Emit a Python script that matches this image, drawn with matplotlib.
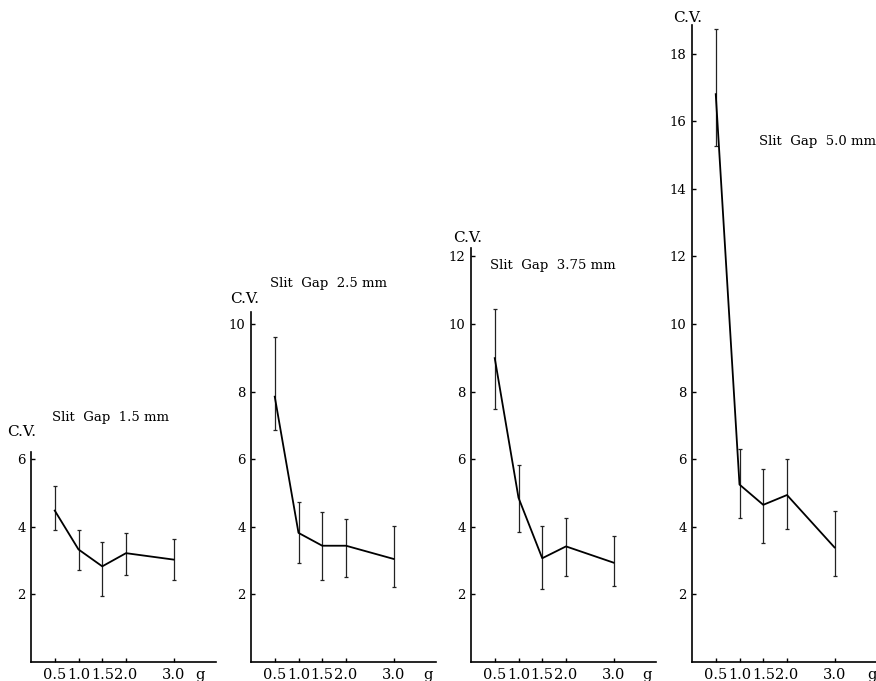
import matplotlib
matplotlib.use('Agg')
import matplotlib.pyplot as plt

W, H = 876, 681
plt.rcParams['font.family'] = ['DejaVu Serif']

# data: mean C.V. and error bar ends per dose (g)
doses = [0.5, 1.0, 1.5, 2.0, 3.0]
tick_labels = ['0.5', '1.0', '1.5', '2.0', '3.0']

gaps = ['1.5', '2.5', '3.75', '5.0']
cv_15 = [4.48, 3.33, 2.83, 3.22, 3.03]
hi_15 = [5.22, 3.92, 3.54, 3.83, 3.65]
lo_15 = [3.91, 2.73, 1.94, 2.56, 2.44]

cv_25 = [7.85, 3.82, 3.44, 3.44, 3.05]
hi_25 = [9.61, 4.72, 4.45, 4.24, 4.03]
lo_25 = [6.87, 2.94, 2.44, 2.52, 2.23]

cv_375 = [8.99, 4.86, 3.07, 3.42, 2.94]
hi_375 = [10.45, 5.83, 4.02, 4.25, 3.73]
lo_375 = [7.50, 3.84, 2.15, 2.55, 2.24]

cv_50 = [16.8, 5.25, 4.65, 4.94, 3.39]
hi_50 = [18.74, 6.31, 5.71, 6.02, 4.47]
lo_50 = [15.27, 4.25, 3.52, 3.94, 2.53]

yticks = [[2, 4, 6], [2, 4, 6, 8, 10], [2, 4, 6, 8, 10, 12],
          [2, 4, 6, 8, 10, 12, 14, 16, 18]]
series = [(cv_15, hi_15, lo_15), (cv_25, hi_25, lo_25),
          (cv_375, hi_375, lo_375), (cv_50, hi_50, lo_50)]

# layout in pixels (top-origin), one entry per panel
ax_left = [31, 251, 471, 692]
ax_top = [452, 312, 248, 25]
ax_bottom = 662
px_per_unit = 33.8
px_per_g = 47.5
xmax = 3.9
title_pos = [(52, 418), (270, 284), (490, 265), (759, 141)]
cv_pos = [(22, 432), (245, 299), (468, 238), (688, 18)]
g_x = [3.55, 3.73, 3.70, 3.79]

fig = plt.figure(figsize=(W / 100, H / 100), dpi=100)

for i in range(4):
    cv, hi, lo = series[i]
    top = ax_top[i]
    rect = [ax_left[i] / W, (H - ax_bottom) / H, xmax * px_per_g / W,
            (ax_bottom - top) / H]
    ax = fig.add_axes(rect)
    ax.set_xlim(0, xmax)
    ax.set_ylim(0, (ax_bottom - top) / px_per_unit)

    yerr = [[c - l for c, l in zip(cv, lo)], [h - c for c, h in zip(cv, hi)]]
    ax.errorbar(doses, cv, yerr=yerr, fmt='none', ecolor='#222222',
                elinewidth=0.9, capsize=1.5, capthick=0.9)
    ax.plot(doses, cv, color='black', lw=1.3)

    for s in ['top', 'right']:
        ax.spines[s].set_visible(False)
    for s in ['left', 'bottom']:
        ax.spines[s].set_linewidth(1.2)

    ax.set_xticks(doses)
    ax.set_xticklabels(tick_labels, fontsize=10.5)
    ax.set_yticks(yticks[i])
    ax.set_yticklabels([str(t) for t in yticks[i]], fontsize=9.5)
    ax.tick_params(direction='in', length=3, width=1, pad=4)

    ax.annotate('g', xy=(g_x[i], 0), xycoords=('data', 'axes fraction'),
                xytext=(0, -4), textcoords='offset points',
                ha='center', va='top', fontsize=10.5)

    tx, ty = title_pos[i]
    fig.text(tx / W, 1 - ty / H, 'Slit  Gap  %s mm' % gaps[i],
             ha='left', va='center', fontsize=9.5)
    cx, cy = cv_pos[i]
    fig.text(cx / W, 1 - cy / H, 'C.V.', ha='center', va='center', fontsize=11)

fig.savefig('out.png', dpi=100)
